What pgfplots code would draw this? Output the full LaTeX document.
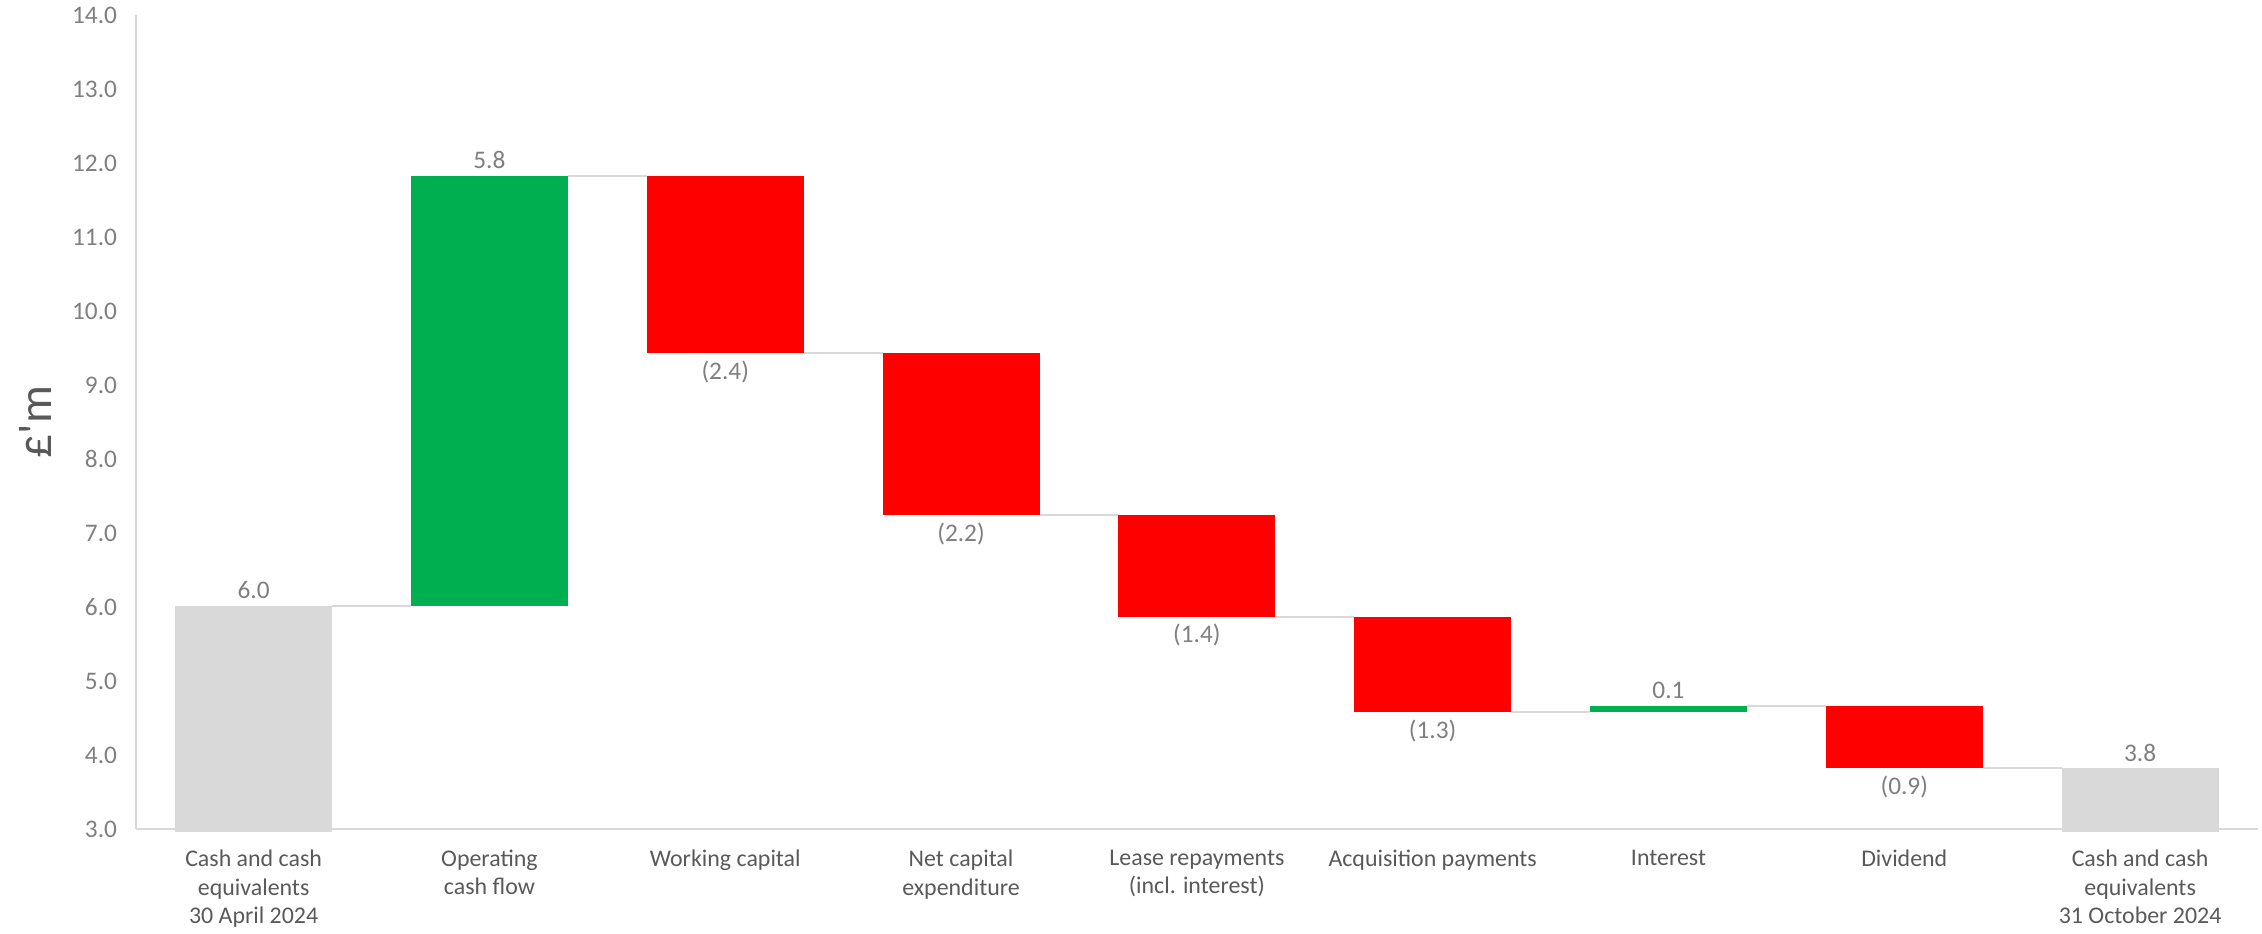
\documentclass[border=0pt]{standalone}
\usepackage{pgfplots}
\pgfplotsset{compat=1.18}
\usepackage{fontspec}
\setmainfont{Carlito}
\definecolor{cgreen}{HTML}{00B050}
\definecolor{cred}{HTML}{FF0000}
\definecolor{cgray}{HTML}{D9D9D9}
\definecolor{txtdark}{HTML}{595959}
\definecolor{txtlight}{HTML}{7F7F7F}
\begin{document}
\begin{tikzpicture}
\begin{axis}[
  scale only axis, width=212.2mm, height=81.4mm,
  xmin=-0.5, xmax=8.5, ymin=3, ymax=14,
  clip=false,
  axis x line*=bottom, axis y line*=left,
  x axis line style={-, draw=cgray, line width=0.2mm},
  y axis line style={-, draw=cgray, line width=0.2mm},
  major tick length=0pt,
  ytick={3,4,...,14},
  /pgf/number format/.cd, fixed, fixed zerofill, precision=1, assume math mode=true,
  /pgfplots/.cd,
  yticklabel style={font=\fontsize{7.2}{8}\selectfont, text=txtlight, inner sep=0pt, xshift=-1.8mm},
  xtick={0,1,...,8},
  xticklabels={{Cash and cash\\equivalents\\30 April 2024},{Operating\\cash flow},{Working capital},{Net capital\\expenditure},{Lease repayments\\(incl. interest)},{Acquisition payments},{Interest},{Dividend},{Cash and cash\\equivalents\\31 October 2024}},
  xticklabel style={font=\fontsize{6.8}{8.15}\selectfont, text=txtdark, align=center, inner sep=0pt, yshift=-2.0mm},
  ylabel={£\textquotesingle m},
  ylabel style={at={(rel axis cs:-0.0471,0.5)}, anchor=center, font=\fontsize{13.5}{15}\selectfont, text=txtdark},
]
% connectors
\addplot[cgray, line width=0.2mm] coordinates {(0.333,6.02) (0.667,6.02)};
\addplot[cgray, line width=0.2mm] coordinates {(1.333,11.83) (1.667,11.83)};
\addplot[cgray, line width=0.2mm] coordinates {(2.333,9.43) (2.667,9.43)};
\addplot[cgray, line width=0.2mm] coordinates {(3.333,7.24) (3.667,7.24)};
\addplot[cgray, line width=0.2mm] coordinates {(4.333,5.87) (4.667,5.87)};
\addplot[cgray, line width=0.2mm] coordinates {(5.333,4.58) (5.667,4.58)};
\addplot[cgray, line width=0.2mm] coordinates {(6.333,4.67) (6.667,4.67)};
\addplot[cgray, line width=0.2mm] coordinates {(7.333,3.82) (7.667,3.82)};
% bars
\addplot[fill=cgray, draw=none] coordinates {(-0.333,2.96) (0.333,2.96) (0.333,6.02) (-0.333,6.02)} -- cycle;
\addplot[fill=cgreen, draw=none] coordinates {(0.667,6.02) (1.333,6.02) (1.333,11.83) (0.667,11.83)} -- cycle;
\addplot[fill=cred, draw=none] coordinates {(1.667,11.83) (2.333,11.83) (2.333,9.43) (1.667,9.43)} -- cycle;
\addplot[fill=cred, draw=none] coordinates {(2.667,9.43) (3.333,9.43) (3.333,7.24) (2.667,7.24)} -- cycle;
\addplot[fill=cred, draw=none] coordinates {(3.667,7.24) (4.333,7.24) (4.333,5.87) (3.667,5.87)} -- cycle;
\addplot[fill=cred, draw=none] coordinates {(4.667,5.87) (5.333,5.87) (5.333,4.58) (4.667,4.58)} -- cycle;
\addplot[fill=cgreen, draw=none] coordinates {(5.667,4.58) (6.333,4.58) (6.333,4.67) (5.667,4.67)} -- cycle;
\addplot[fill=cred, draw=none] coordinates {(6.667,4.67) (7.333,4.67) (7.333,3.82) (6.667,3.82)} -- cycle;
\addplot[fill=cgray, draw=none] coordinates {(7.667,2.96) (8.333,2.96) (8.333,3.82) (7.667,3.82)} -- cycle;
% labels above
\addplot[draw=none, mark=none, nodes near coords, point meta=explicit symbolic,
  every node near coord/.append style={anchor=south, inner sep=0pt, yshift=0.6mm, font=\fontsize{7.2}{8}\selectfont, text=txtlight}]
  table[meta=lab] {
x y lab
0 6.02 6.0
1 11.83 5.8
6 4.67 0.1
8 3.82 3.8
};
% labels below
\addplot[draw=none, mark=none, nodes near coords, point meta=explicit symbolic,
  every node near coord/.append style={anchor=north, inner sep=0pt, yshift=-0.7mm, font=\fontsize{7.2}{8}\selectfont, text=txtlight}]
  table[meta=lab] {
x y lab
2 9.43 (2.4)
3 7.24 (2.2)
4 5.87 (1.4)
5 4.58 (1.3)
7 3.82 (0.9)
};
\end{axis}
\pgfresetboundingbox
\path ([shift={(-13.57mm,-10.4mm)}]current axis.south west) rectangle ([shift={(0.4mm,1.5mm)}]current axis.north east);
\end{tikzpicture}
\end{document}
